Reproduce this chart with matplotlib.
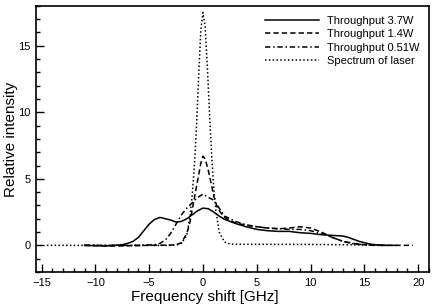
import numpy as np
import matplotlib
matplotlib.use('Agg')
import matplotlib.pyplot as plt
from matplotlib.ticker import MultipleLocator

plt.rcParams['font.family'] = ['Liberation Sans', 'DejaVu Sans']

# throughput 3.7W
f_37 = [-11, -9, -7.5, -7, -6.5, -6, -5.5, -5, -4.5, -4, -3.5, -3, -2.5, -2, -1.5, -1, -0.5, 0,
        0.5, 1, 1.5, 2, 3, 4, 5, 6, 7, 8, 9, 10, 11, 12, 13, 13.5, 14, 14.5, 15, 15.5, 16, 17, 18]
i_37 = [0, -0.05, 0.05, 0.15, 0.3, 0.6, 1.1, 1.6, 1.95, 2.1, 2.0, 1.9, 1.75, 1.8, 2.0, 2.3, 2.6, 2.8,
        2.75, 2.5, 2.2, 1.95, 1.65, 1.4, 1.2, 1.1, 1.05, 1.05, 0.95, 0.9, 0.8, 0.75, 0.7, 0.6, 0.45, 0.3, 0.2, 0.1, 0.05, 0, 0]

# throughput 1.4W
f_14 = [-11, -8, -5, -3, -2.5, -2, -1.5, -1.2, -1.0, -0.7, -0.4, -0.2, 0, 0.2, 0.5, 0.8, 1.0, 1.3, 1.6,
        2, 2.5, 3, 4, 5, 6, 7, 8, 9, 10, 11, 12, 13, 14, 15, 16, 18, 19.5]
i_14 = [0, -0.05, 0.0, 0.02, 0.05, 0.2, 0.9, 1.8, 2.7, 4.0, 5.3, 6.2, 6.7, 6.5, 5.6, 4.5, 3.7, 2.9, 2.5,
        2.1, 1.85, 1.7, 1.5, 1.4, 1.3, 1.25, 1.3, 1.4, 1.3, 1.0, 0.6, 0.3, 0.15, 0.05, 0.0, 0.0, 0.0]

# throughput 0.51W
f_051 = [-11, -8, -6, -4.5, -4, -3.5, -3, -2.5, -2, -1.5, -1, -0.5, 0, 0.5, 1, 1.5, 2, 3, 4, 5, 6,
         7, 8, 9, 10, 11, 12, 13, 14, 15, 16, 17]
i_051 = [0, 0, 0, 0.05, 0.15, 0.4, 0.9, 1.6, 2.3, 2.8, 3.2, 3.6, 3.85, 3.6, 3.4, 2.8, 2.2, 1.8, 1.55, 1.4, 1.3,
         1.25, 1.2, 1.2, 1.1, 0.9, 0.6, 0.3, 0.1, 0.05, 0, 0]

# laser spectrum
f_las = [-14.5, -10, -5, -3, -2.5, -2, -1.5, -1.2, -1.0, -0.8, -0.6, -0.4, -0.2, 0, 0.2, 0.4, 0.6, 0.8,
         1.0, 1.2, 1.5, 2, 2.5, 3, 5, 10, 15, 16]
i_las = [0, 0, 0, 0, 0.02, 0.15, 0.8, 2.2, 3.8, 6.0, 9.0, 12.8, 16.2, 17.5, 16.4, 13.5, 10.0, 6.8,
         4.3, 2.6, 1.0, 0.25, 0.1, 0.08, 0.08, 0.07, 0.03, 0]

fig = plt.figure(figsize=(4.36, 3.08), dpi=100)
ax = fig.add_axes([0.083, 0.117, 0.901, 0.864])

ax.plot(f_37, i_37, color='black', lw=1.1, ls='-', label='Throughput 3.7W')
ax.plot(f_14, i_14, color='black', lw=1.1, ls=(0, (3.5, 2)), label='Throughput 1.4W')
ax.plot(f_051, i_051, color='black', lw=1.1, ls=(0, (3.5, 1.8, 1, 1.8)), label='Throughput 0.51W')
ax.plot(f_las, i_las, color='black', lw=1.1, ls=(0, (1, 1.5)), label='Spectrum of laser')

ax.set_xlim(-15.5, 21)
ax.set_ylim(-2, 18)
ax.set_xticks([-15, -10, -5, 0, 5, 10, 15, 20])
ax.set_yticks([0, 5, 10, 15])
ax.xaxis.set_minor_locator(MultipleLocator(1))
ax.yaxis.set_minor_locator(MultipleLocator(1))
ax.tick_params(which='both', direction='in', top=False, right=False, labelsize=8, width=1, pad=4)
ax.tick_params(which='major', length=6)
ax.tick_params(which='minor', length=3)
for s in ax.spines.values():
    s.set_linewidth(1.2)

ax.set_xlabel('Frequency shift [GHz]', fontsize=11)
ax.set_ylabel('Relative intensity', fontsize=11)
ax.xaxis.set_label_coords(0.43, -0.068)
ax.yaxis.set_label_coords(-0.046, 0.5)

ax.legend(loc='upper right', frameon=False, fontsize=8, handlelength=4.8,
          handletextpad=0.7, labelspacing=0.3, borderaxespad=0.5)

fig.savefig('out.png', dpi=100)
